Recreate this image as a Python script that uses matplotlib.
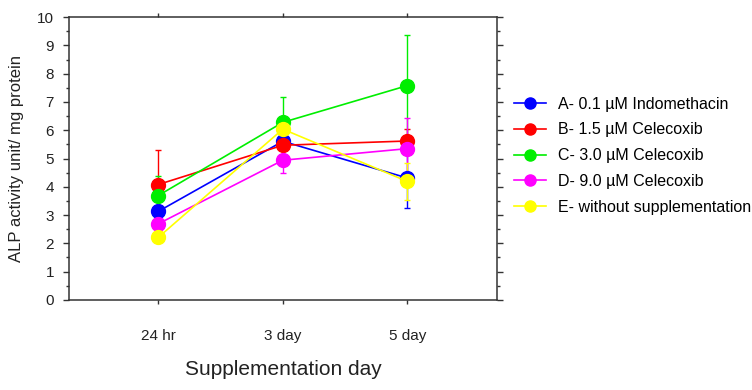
import matplotlib
matplotlib.use("Agg")
import matplotlib.pyplot as plt
from matplotlib.ticker import MultipleLocator
from matplotlib.lines import Line2D

plt.rcParams['font.family'] = ['Liberation Sans', 'DejaVu Sans']

days = ["24 hr", "3 day", "5 day"]
labels = ["A- 0.1 \u00b5M Indomethacin", "B- 1.5 \u00b5M Celecoxib", "C- 3.0 \u00b5M Celecoxib",
          "D- 9.0 \u00b5M Celecoxib", "E- without supplementation"]
colors = ["#0000ff", "#ff0000", "#00ee00", "#ff00ff", "#ffff00"]

# mean ALP activity
a_vals = [3.13, 5.61, 4.31]
b_vals = [4.08, 5.47, 5.62]
c_vals = [3.69, 6.28, 7.58]
d_vals = [2.69, 4.94, 5.35]
e_vals = [2.21, 6.04, 4.19]

# error bars (symmetric)
a_err = [0.15, 0.15, 1.05]
b_err = [1.23, 0.15, 0.43]
c_err = [0.68, 0.88, 1.8]
d_err = [0.2, 0.45, 1.08]
e_err = [0.15, 0.2, 0.66]

series = [a_vals, b_vals, c_vals, d_vals, e_vals]
errors = [a_err, b_err, c_err, d_err, e_err]

fig = plt.figure(figsize=(7.52, 3.9), dpi=100)
ax = fig.add_axes([0.092, 0.231, 0.569, 0.725])

x = [1, 2, 3]
handles = []
for vals, err, col, lab in zip(series, errors, colors, labels):
    ax.errorbar(x, vals, yerr=err, fmt='-o', color=col, ecolor=col, lw=1.2,
                elinewidth=1.0, capsize=2.5, markersize=10)
    # legend entry without the error bar
    handles.append(Line2D([], [], color=col, lw=1.2, marker='o', markersize=8, label=lab))

ax.set_xlim(0.285, 3.72)
ax.set_ylim(0, 10)
ax.set_xticks(x)
ax.set_xticklabels(days, fontsize=11)
ax.yaxis.set_major_locator(MultipleLocator(1))
ax.yaxis.set_minor_locator(MultipleLocator(0.5))

for s in ax.spines.values():
    s.set_linewidth(1.1)
    s.set_color("#333333")

ax.tick_params(axis='x', which='both', top=True, direction='out', length=3,
               width=1, pad=18, colors="#333333")
ax.tick_params(axis='y', which='major', right=True, direction='out', length=4,
               width=1, pad=7, labelsize=11, colors="#333333")
ax.tick_params(axis='y', which='minor', right=True, direction='out', length=2.5,
               width=1, colors="#333333")
ax.tick_params(axis='x', labelcolor="#222222")
ax.tick_params(axis='y', labelcolor="#222222")

ax.set_ylabel("ALP activity unit/ mg protein", fontsize=12, color="#222222", labelpad=9)
ax.set_xlabel("Supplementation day", fontsize=15, color="#222222", labelpad=12)

ax.legend(handles=handles, loc='center left', bbox_to_anchor=(0.683, 0.601),
          bbox_transform=fig.transFigure, frameon=False, fontsize=11.5,
          handlelength=2.0, handletextpad=0.8, labelspacing=0.67,
          borderpad=0, borderaxespad=0)

fig.savefig("out.png", dpi=100)
